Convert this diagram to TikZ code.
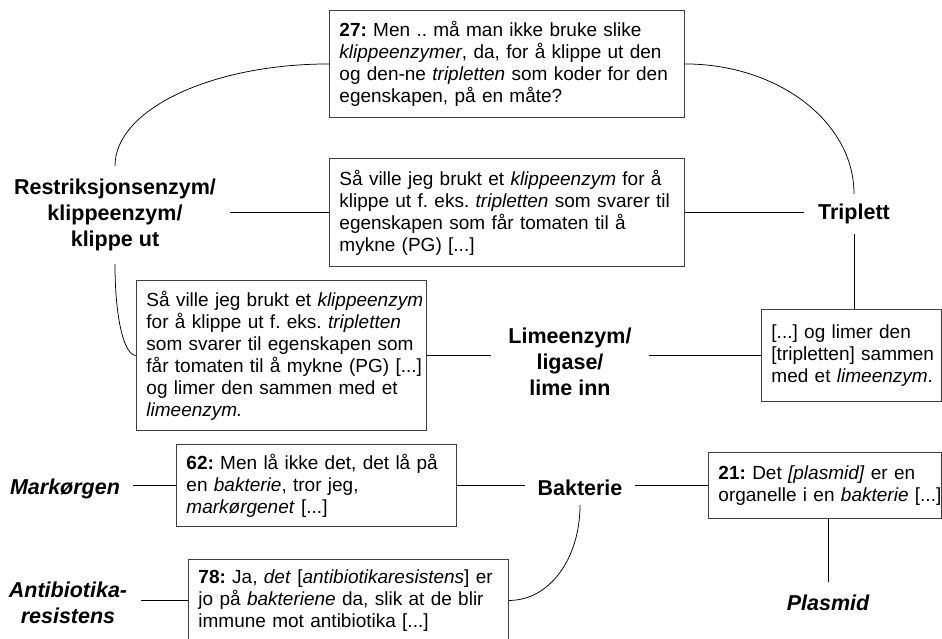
\documentclass[tikz,border=0pt]{standalone}
\usepackage{fontspec}
\setmainfont{Liberation Sans}
\frenchspacing
\begin{document}
\begin{tikzpicture}[x=1pt,y=-1pt,
  quote/.style={draw=black!75, line width=0.9pt, fill=white, anchor=north west,
    align=left, inner xsep=10pt, inner ysep=0pt,
    font=\fontsize{19}{22}\selectfont},
  concept/.style={align=center, inner xsep=14pt, inner ysep=13pt,
    font=\bfseries\fontsize{21.5}{26}\selectfont},
  concepti/.style={concept, font=\bfseries\itshape\fontsize{21.5}{26}\selectfont},
  link/.style={draw=black, line width=0.75pt}]

\useasboundingbox (0,0) rectangle (942,638);
\clip (0,0) rectangle (942,638);
\fill[white] (0,0) rectangle (942,638);

% quotation boxes
\node[quote, text width=335pt, minimum width=355pt, minimum height=107pt] (qa) at (329,10)
  {\textbf{27:} Men .. må man ikke bruke slike\\
   \textit{klippeenzymer}, da, for å klippe ut den\\
   og den-ne \textit{tripletten} som koder for den\\
   egenskapen, på en måte?};
\node[quote, text width=335pt, minimum width=355pt, minimum height=108pt] (qb) at (329,158)
  {\mbox{Så ville jeg brukt et \textit{klippeenzym} for å}\\
   \mbox{klippe ut f. eks. \textit{tripletten} som svarer til}\\
   egenskapen som får tomaten til å\\
   mykne (PG) [...]};
\node[quote, text width=270pt, minimum width=290pt, minimum height=150pt] (qd) at (136,280)
  {\mbox{Så ville jeg brukt et \textit{klippeenzym}}\\
   \mbox{for å klippe ut f. eks. \textit{tripletten}}\\
   \mbox{som svarer til egenskapen som}\\
   \mbox{får tomaten til å mykne (PG) [...]}\\
   \mbox{og limer den sammen med et}\\
   \textit{limeenzym.}};
\node[quote, text width=160pt, minimum width=180pt, minimum height=92pt] (qc) at (761,309)
  {\mbox{[...] og limer den}\\
   \mbox{{}[tripletten] sammen}\\
   \mbox{med et \textit{limeenzym}.}};
\node[quote, text width=260pt, minimum width=280pt, minimum height=82pt] (qe) at (176,444)
  {\mbox{\textbf{62:} Men lå ikke det, det lå på}\\
   en \textit{bakterie}, tror jeg,\\
   \textit{markørgenet} [...]};
\node[quote, text width=213pt, minimum width=233pt, minimum height=66pt] (qf) at (708,452)
  {\mbox{\textbf{21:} Det \textit{[plasmid]} er en}\\
   \mbox{organelle i en \textit{bakterie} [...]}};
\node[quote, text width=300pt, minimum width=320pt, minimum height=82pt] (qg) at (188,559)
  {\mbox{\textbf{78:} Ja, \textit{det} [\textit{antibiotikaresistens}] er}\\
   \mbox{jo på \textit{bakteriene} da, slik at de blir}\\
   immune mot antibiotika [...]};

% concept labels
\node[concept] (res) at (115,215) {Restriksjonsenzym/\\klippeenzym/\\klippe ut};
\node[concept, inner ysep=10pt] (tri) at (854,214) {Triplett};
\node[concept, inner xsep=17pt] (lim) at (570,362) {Limeenzym/\\ligase/\\lime inn};
\node[concepti, inner xsep=13pt] (mark) at (65,489) {Markørgen};
\node[concept, inner xsep=12pt, inner ysep=9pt] (bak) at (580,488) {Bakterie};
\node[concepti] (pla) at (828,603) {Plasmid};
\node[concepti, inner xsep=14pt] (anti) at (68,603) {Antibiotika-\\resistens};

% straight connectors
\draw[link] (qb.west -| res.east) -- (qb.west);
\draw[link] (qb.east) -- (qb.east -| tri.west);
\draw[link] (tri.south) -- (tri.south |- qc.north);
\draw[link] (qd.east) -- (qd.east -| lim.west);
\draw[link] (qc.west -| lim.east) -- (qc.west);
\draw[link] (qe.west -| mark.east) -- (qe.west);
\draw[link] (qe.east) -- (qe.east -| bak.west);
\draw[link] (qf.west -| bak.east) -- (qf.west);
\draw[link] (pla.north |- qf.south) -- (pla.north);
\draw[link] (qg.west -| anti.east) -- (qg.west);

% curved connectors
\draw[link] (res.north) .. controls +(0,-56) and +(-118,0) .. (qa.west);
\draw[link] (qa.east) .. controls +(93,0) and +(0,-72) .. (tri.north);
\draw[link] (res.south) .. controls +(0,54) and +(-12,0) .. (qd.west);
\draw[link] (bak.south) .. controls +(0,53) and +(41,0) .. (qg.east);
\end{tikzpicture}
\end{document}
